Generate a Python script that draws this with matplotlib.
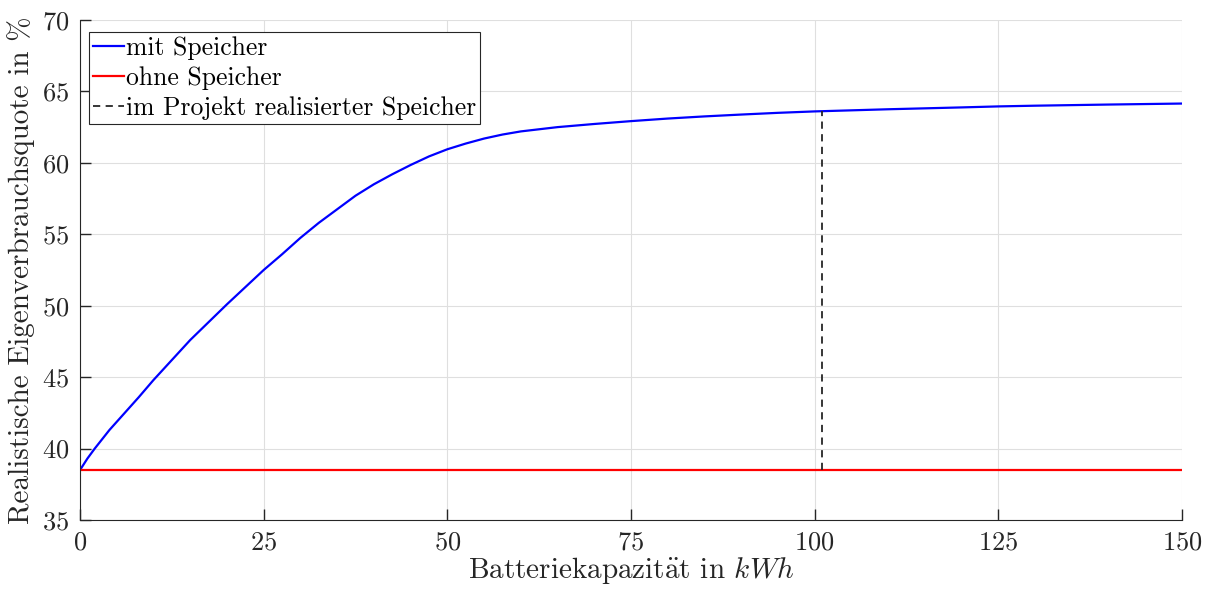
import matplotlib
matplotlib.use("Agg")
import matplotlib.pyplot as plt

# Batteriekapazitaet in kWh
kap = [0, 1, 2, 4, 6, 8, 10, 12.5, 15, 17.5, 20, 22.5, 25, 27.5, 30, 32.5,
       35, 37.5, 40, 42.5, 45, 47.5, 50, 52.5, 55, 57.5, 60, 65, 70, 75, 80,
       85, 90, 95, 100, 110, 120, 125, 130, 140, 150]
# Eigenverbrauchsquote mit Speicher in %
quote_mit = [38.5, 39.3, 40.0, 41.3, 42.45, 43.6, 44.8, 46.2, 47.6, 48.85,
             50.1, 51.3, 52.5, 53.6, 54.75, 55.8, 56.75, 57.7, 58.5, 59.2,
             59.85, 60.45, 60.95, 61.35, 61.7, 61.98, 62.2, 62.5, 62.72, 62.92,
             63.1, 63.25, 63.38, 63.5, 63.6, 63.75, 63.88, 63.95, 64.0, 64.08,
             64.15]
quote_ohne = 38.5
kap_projekt = 101
quote_projekt = 63.62

plt.rcParams['font.family'] = ['cmr10', 'DejaVu Serif']
plt.rcParams['mathtext.fontset'] = 'cm'
plt.rcParams['axes.formatter.use_mathtext'] = True
plt.rcParams['font.size'] = 19

fig = plt.figure(figsize=(12.07, 5.89), dpi=100)
ax = fig.add_axes([0.0663, 0.1171, 0.913, 0.849])

ax.plot(kap, quote_mit, color='#0000ff', lw=1.6, label='mit Speicher')
ax.plot([0, 150], [quote_ohne, quote_ohne], color='#ff0000', lw=1.6,
        label='ohne Speicher')
ax.plot([kap_projekt, kap_projekt], [quote_ohne, quote_projekt], color='#262626',
        lw=1.3, ls=(0, (4, 3)), label='im Projekt realisierter Speicher')

ax.set_xlim(0, 150)
ax.set_ylim(35, 70)
ax.set_xticks([0, 25, 50, 75, 100, 125, 150])
ax.set_yticks([35, 40, 45, 50, 55, 60, 65, 70])
ax.grid(True, color='#dfdfdf', lw=0.8)
ax.set_axisbelow(True)

for side in ['top', 'right']:
    ax.spines[side].set_visible(False)
for side in ['left', 'bottom']:
    ax.spines[side].set_color('#262626')
ax.tick_params(colors='#262626', direction='in', length=8, width=1, pad=8,
               labelsize=19)

ax.set_xlabel(r'Batteriekapazit$\ddot{\mathrm{a}}$t in $kWh$', color='#262626',
              fontsize=21, labelpad=0)
ax.set_ylabel('Realistische Eigenverbrauchsquote in %', color='#262626',
              fontsize=21, labelpad=5)

leg = ax.legend(loc='upper left', bbox_to_anchor=(0.008, 0.975), fancybox=False,
                edgecolor='#262626', framealpha=1, handlelength=1.2,
                handletextpad=0.1, borderpad=0.15, labelspacing=0.25,
                borderaxespad=0, fontsize=18.5)
leg.get_frame().set_linewidth(0.8)

fig.savefig('out.png', dpi=100)
